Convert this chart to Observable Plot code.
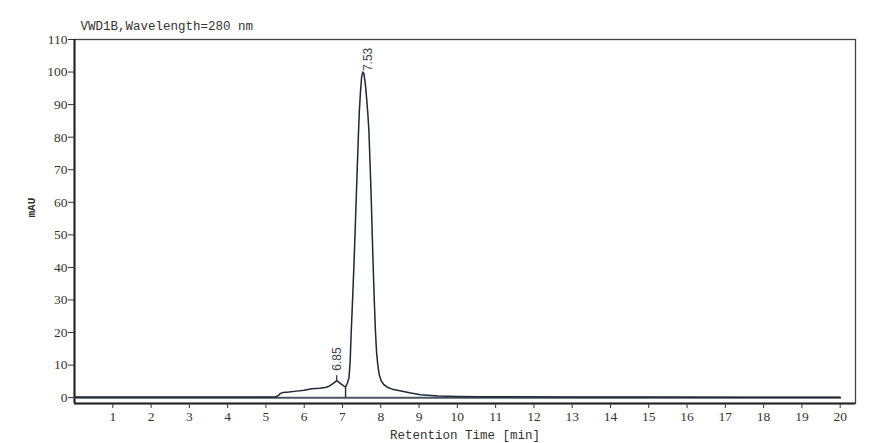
<!DOCTYPE html>
<html><head><meta charset="utf-8">
<script src="https://cdn.jsdelivr.net/npm/d3@7"></script>
<script src="https://cdn.jsdelivr.net/npm/@observablehq/plot@0.6"></script>
<style>body{margin:0;background:#fff;}</style>
</head><body><div id="chart"></div>
<script>
const time = [0, 5.25, 5.32, 5.38, 5.45, 5.60, 5.80, 6.00, 6.20, 6.40, 6.55, 6.65, 6.75, 6.85, 6.95, 7.03, 7.08, 7.13, 7.17, 7.20, 7.23, 7.27, 7.30, 7.33, 7.36, 7.39, 7.42, 7.44, 7.47, 7.50, 7.53, 7.56, 7.60, 7.63, 7.66, 7.69, 7.72, 7.75, 7.78, 7.80, 7.83, 7.86, 7.89, 7.92, 7.96, 8.01, 8.08, 8.17, 8.30, 8.50, 8.75, 9.04, 9.50, 10.0, 10.6, 11.5, 13.0, 15.0, 17.5, 20.0];
const mAU  = [0.2, 0.2, 0.6, 1.3, 1.6, 1.7, 2.0, 2.3, 2.7, 2.9, 3.1, 3.5, 4.3, 5.2, 4.3, 3.6, 3.3, 4.5, 6.2, 11, 20.6, 32, 41, 51, 61.5, 72, 82, 88, 94, 98.5, 100, 99.5, 96, 92, 87.5, 82, 72, 61.5, 49, 41, 30, 20.6, 14, 10.3, 7, 5.2, 4, 3.2, 2.6, 2.1, 1.5, 0.9, 0.5, 0.35, 0.3, 0.25, 0.2, 0.2, 0.15, 0.15];

const peakTimes = [6.85, 7.53];
const peakHeights = [5.2, 100];
const peakLabels = ["6.85", "7.53"];

const dropTimes = [7.08];
const dropHeights = [3.3];

const baselineTimes = [0, 20];
const baselineValues = [0, 0];

const xTicks = [1,2,3,4,5,6,7,8,9,10,11,12,13,14,15,16,17,18,19,20];
const yTicks = [0,10,20,30,40,50,60,70,80,90,100,110];
const xDomain = [0, 20.4];
const yDomain = [-1.8, 110];

const title = "VWD1B,Wavelength=280 nm";
const xLabel = "Retention Time [min]";
const yLabel = "mAU";

const signal = time.map((t, i) => ({t, v: mAU[i]}));
const peaks = peakTimes.map((t, i) => ({t, v: peakHeights[i], label: peakLabels[i]}));
const baseline = baselineTimes.map((t, i) => ({t, v: baselineValues[i]}));
const drops = dropTimes.map((t, i) => ({t, v: dropHeights[i]}));

const lineColor = "#1e2836";
const textColor = "#333";

const chart = Plot.plot({
  width: 883,
  height: 443,
  marginLeft: 74,
  marginRight: 28,
  marginTop: 39,
  marginBottom: 40,
  style: {fontFamily: "Liberation Serif", fontSize: "13px", background: "#fff", color: textColor},
  x: {domain: xDomain},
  y: {domain: yDomain},
  marks: [
    Plot.frame({stroke: "#444", strokeWidth: 1.3}),
    Plot.ruleX([xDomain[0]], {stroke: "#222", strokeWidth: 2}),
    Plot.ruleY([yDomain[0]], {stroke: "#222", strokeWidth: 2}),
    Plot.axisX({ticks: xTicks, tickSize: 5, tickPadding: 3, tickFormat: d => d, label: null, fontSize: 13.5, stroke: "#333"}),
    Plot.axisY({ticks: yTicks, tickSize: 6, tickPadding: 1, tickFormat: d => d, label: null, fontSize: 13.5, stroke: "#333"}),
    Plot.line(baseline, {x: "t", y: "v", stroke: "#4a5663", strokeWidth: 2}),
    Plot.ruleX(drops, {x: "t", y1: () => 0, y2: "v", stroke: lineColor, strokeWidth: 1.4}),
    Plot.line(signal, {x: "t", y: "v", stroke: lineColor, strokeWidth: 1.5}),
    Plot.ruleX(peaks.slice(0, 1), {x: "t", y1: "v", y2: d => d.v + 1.5, stroke: lineColor, strokeWidth: 1.2}),
    Plot.text(peaks.slice(0, 1), {x: "t", y: "v", text: "label", rotate: -90, textAnchor: "start", lineAnchor: "middle", dy: -10, fontFamily: "Liberation Sans", fontSize: 12, fill: "#444"}),
    Plot.text(peaks.slice(1), {x: "t", y: "v", text: "label", rotate: -90, textAnchor: "start", lineAnchor: "middle", dx: 5, dy: -1, fontFamily: "Liberation Sans", fontSize: 12, fill: "#444"}),
    Plot.text([title], {text: d => d, frameAnchor: "top-left", dx: 6, dy: -10, textAnchor: "start", lineAnchor: "bottom", fontFamily: "Liberation Mono", fontSize: 12.5, fill: textColor}),
    Plot.text([xLabel], {text: d => d, frameAnchor: "bottom", dy: 35, lineAnchor: "bottom", fontFamily: "Liberation Mono", fontSize: 12.5, fill: textColor}),
    Plot.text([yLabel], {text: d => d, frameAnchor: "left", dx: -43, dy: -4, rotate: -90, lineAnchor: "middle", fontFamily: "Liberation Mono", fontSize: 11, fontWeight: "bold", fill: textColor})
  ]
});
document.getElementById("chart").appendChild(chart);
</script>
</body></html>
